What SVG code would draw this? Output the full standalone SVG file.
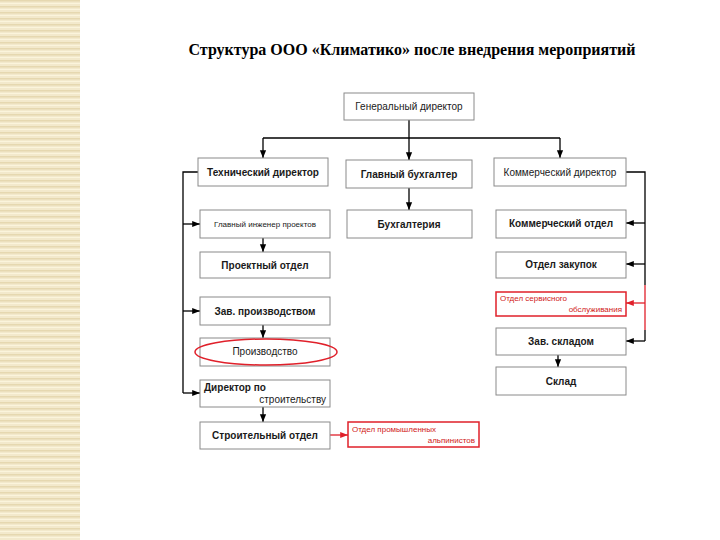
<svg xmlns="http://www.w3.org/2000/svg" width="720" height="540" viewBox="0 0 720 540">
<style>
.box{fill:#fff;stroke:#8a8a8a;stroke-width:1}
.rbox{fill:#fff;stroke:#e0202a;stroke-width:1.5}
.t{font-family:"Liberation Sans",Arial,sans-serif;font-size:10px;font-weight:bold;fill:#1a1a1a;text-anchor:middle}
.ts{font-family:"Liberation Sans",Arial,sans-serif;font-size:8px;fill:#1a1a1a;text-anchor:middle}
.tr{font-family:"Liberation Sans",Arial,sans-serif;font-size:8px;fill:#d01818}
.ln{fill:none;stroke:#000;stroke-width:1.3}
.lnr{fill:none;stroke:#e0202a;stroke-width:1.3}
.title{font-family:"Liberation Serif","Times New Roman",serif;font-size:16px;font-weight:bold;fill:#000;text-anchor:middle}
</style>
<defs>
<pattern id="stripe" width="80" height="6" patternUnits="userSpaceOnUse">
<rect width="80" height="6" fill="#f3e9cc"/>
<rect y="0" width="80" height="1.5" fill="#e6d8b0"/>
<rect y="3" width="80" height="1" fill="#fbf4dc"/>
</pattern>
<marker id="ah" viewBox="0 0 10 10" refX="10" refY="5" markerWidth="6" markerHeight="6" orient="auto"><path d="M0,1 L10,5 L0,9 z" fill="#000"/></marker>
<marker id="ahr" viewBox="0 0 10 10" refX="10" refY="5" markerWidth="6" markerHeight="6" orient="auto"><path d="M0,1 L10,5 L0,9 z" fill="#e0202a"/></marker>
</defs>
<rect width="720" height="540" fill="#fff"/>
<rect x="0" y="0" width="80" height="540" fill="url(#stripe)"/>
<text class="title" x="412" y="55">Структура ООО «Климатико» после внедрения мероприятий</text>

<g id="connectors">
<path class="ln" d="M409,120 V138"/>
<path class="ln" d="M263,138 H560"/>
<path class="ln" d="M263,138 V158" marker-end="url(#ah)"/>
<path class="ln" d="M409,138 V160" marker-end="url(#ah)"/>
<path class="ln" d="M560,138 V158" marker-end="url(#ah)"/>
<path class="ln" d="M409,188 V210" marker-end="url(#ah)"/>
<path class="ln" d="M198,172 H183 V393"/>
<path class="ln" d="M183,224 H200" marker-end="url(#ah)"/>
<path class="ln" d="M183,311 H200" marker-end="url(#ah)"/>
<path class="ln" d="M183,393 H200" marker-end="url(#ah)"/>
<path class="ln" d="M263,238 V252" marker-end="url(#ah)"/>
<path class="ln" d="M263,325 V338" marker-end="url(#ah)"/>
<path class="ln" d="M263,407 V422" marker-end="url(#ah)"/>
<path class="lnr" d="M330,435 H348" marker-end="url(#ahr)"/>
<path class="ln" d="M626,172 H645 V285"/>
<path class="lnr" d="M645,285 V330"/>
<path class="ln" d="M645,330 V341"/>
<path class="ln" d="M645,223 H626" marker-end="url(#ah)"/>
<path class="ln" d="M645,264 H626" marker-end="url(#ah)"/>
<path class="lnr" d="M645,303 H626" marker-end="url(#ahr)"/>
<path class="ln" d="M645,341 H626" marker-end="url(#ah)"/>
<path class="ln" d="M558,355 V367" marker-end="url(#ah)"/>
</g>

<g id="gen"><rect class="box" x="344" y="93" width="130" height="27"/><text class="t" x="409" y="110" style="font-weight:normal">Генеральный директор</text></g>
<g id="tech"><rect class="box" x="198" y="158" width="130" height="28"/><text class="t" x="263" y="176">Технический директор</text></g>
<g id="buh"><rect class="box" x="346" y="160" width="126" height="28"/><text class="t" x="409" y="178">Главный бухгалтер</text></g>
<g id="kom"><rect class="box" x="494" y="158" width="132" height="28"/><text class="t" x="560" y="176" style="font-weight:normal">Коммерческий директор</text></g>
<g id="gip"><rect class="box" x="200" y="210" width="130" height="28"/><text class="ts" x="265" y="227">Главный инженер проектов</text></g>
<g id="buhg"><rect class="box" x="347" y="210" width="125" height="28"/><text class="t" x="409" y="228">Бухгалтерия</text></g>
<g id="komo"><rect class="box" x="496" y="210" width="130" height="28"/><text class="t" x="561" y="227">Коммерческий отдел</text></g>
<g id="proekt"><rect class="box" x="200" y="252" width="130" height="26"/><text class="t" x="265" y="269">Проектный отдел</text></g>
<g id="zakup"><rect class="box" x="496" y="252" width="130" height="26"/><text class="t" x="561" y="268">Отдел закупок</text></g>
<g id="servis"><rect class="rbox" x="496" y="292" width="130" height="24"/><text class="tr" x="500" y="301">Отдел сервисного</text><text class="tr" x="622" y="312" style="text-anchor:end">обслуживания</text></g>
<g id="zavpr"><rect class="box" x="200" y="297" width="130" height="28"/><text class="t" x="265" y="315">Зав. производством</text></g>
<g id="zavskl"><rect class="box" x="496" y="328" width="130" height="27"/><text class="t" x="561" y="345">Зав. складом</text></g>
<g id="proizv"><rect class="box" x="200" y="338" width="130" height="28"/><ellipse cx="266" cy="352" rx="71" ry="13" fill="none" stroke="#e0202a" stroke-width="1.5"/><text class="t" x="265" y="355" style="font-weight:normal">Производство</text></g>
<g id="sklad"><rect class="box" x="496" y="367" width="130" height="28"/><text class="t" x="561" y="385">Склад</text></g>
<g id="dirstr"><rect class="box" x="200" y="380" width="130" height="27"/><text class="t" x="204" y="391" style="text-anchor:start">Директор по</text><text class="t" x="326" y="403" style="text-anchor:end;font-weight:normal">строительству</text></g>
<g id="stroy"><rect class="box" x="200" y="422" width="130" height="27"/><text class="t" x="265" y="439">Строительный отдел</text></g>
<g id="alp"><rect class="rbox" x="348" y="422" width="131" height="25"/><text class="tr" x="352" y="432">Отдел промышленных</text><text class="tr" x="475" y="443" style="text-anchor:end">альпинистов</text></g>
</svg>
